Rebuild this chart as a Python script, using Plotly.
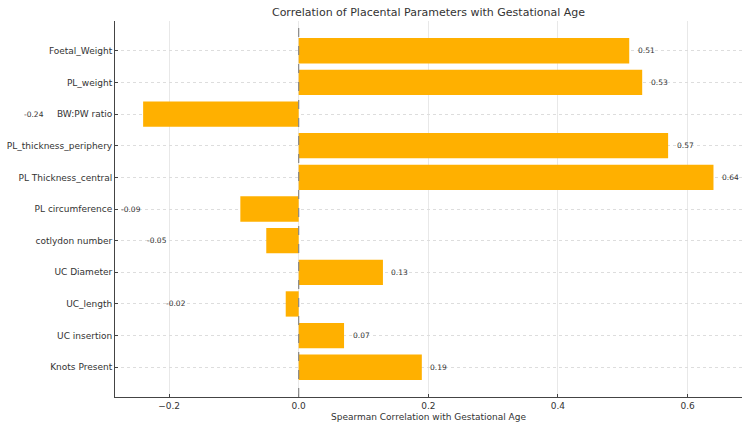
import plotly.graph_objects as go

categories = ["Foetal_Weight", "PL_weight", "BW:PW ratio", "PL_thickness_periphery",
              "PL Thickness_central", "PL circumference", "cotlydon number",
              "UC Diameter", "UC_length", "UC insertion", "Knots Present"]
values = [0.51, 0.53, -0.24, 0.57, 0.64, -0.09, -0.05, 0.13, -0.02, 0.07, 0.19]
x_ticks = [-0.2, 0.0, 0.2, 0.4, 0.6]
x_tick_labels = ["\u22120.2", "0.0", "0.2", "0.4", "0.6"]

FONT = "DejaVu Sans"
XMIN, XMAX = -0.2834, 0.684
YTOP, YBOT = -0.94, 10.94

fig = go.Figure()
fig.add_trace(go.Bar(
    y=categories, x=values, orientation="h",
    marker=dict(color="#FFB000", line=dict(width=0)),
    showlegend=False,
))

annotations = []
for i, (c, v) in enumerate(zip(categories, values)):
    yp = 1 - (i - YTOP) / (YBOT - YTOP)
    if v >= 0:
        xp = (v + 0.01 - XMIN) / (XMAX - XMIN)
        anchor = "left"
    else:
        xp = (v - 0.15 - XMIN) / (XMAX - XMIN)
        anchor = "right"
    annotations.append(dict(x=xp, y=yp, xref="paper", yref="paper", text=f"{v:.2f}",
                            xanchor=anchor, yanchor="middle", showarrow=False,
                            font=dict(family=FONT, size=7.5, color="#333333")))

fig.update_layout(
    width=750, height=429,
    margin=dict(l=115, r=8, t=21, b=32),
    paper_bgcolor="white", plot_bgcolor="white",
    bargap=0.2,
    font=dict(family=FONT, size=9, color="#333333"),
    title=dict(text="Correlation of Placental Parameters with Gestational Age",
               x=(115 + 742) / 2 / 750, xanchor="center", y=1 - 12 / 429, yanchor="middle",
               font=dict(family=FONT, size=11, color="#333333")),
    annotations=annotations,
    shapes=[dict(type="line", xref="x", yref="paper", x0=0, x1=0, y0=0, y1=1,
                 line=dict(color="#888888", width=1.2, dash="dash"))],
)
fig.update_xaxes(
    range=[XMIN, XMAX], tickvals=x_ticks, ticktext=x_tick_labels,
    showgrid=True, gridcolor="#e8e8e8", gridwidth=1, griddash="solid",
    zeroline=False, showline=True, linecolor="#444444", linewidth=1,
    ticks="inside", ticklen=3, tickcolor="#444444",
    title=dict(text="Spearman Correlation with Gestational Age", standoff=3,
               font=dict(family=FONT, size=9, color="#333333")),
    tickfont=dict(family=FONT, size=9, color="#333333"),
)
fig.update_yaxes(
    range=[YBOT, YTOP], categoryorder="array", categoryarray=categories,
    showgrid=True, gridcolor="#dddddd", gridwidth=1, griddash="dot",
    zeroline=False, showline=True, linecolor="#444444", linewidth=1,
    ticks="inside", ticklen=3, tickcolor="#444444",
    tickfont=dict(family=FONT, size=9, color="#333333"),
)
fig.write_html("out.html")
